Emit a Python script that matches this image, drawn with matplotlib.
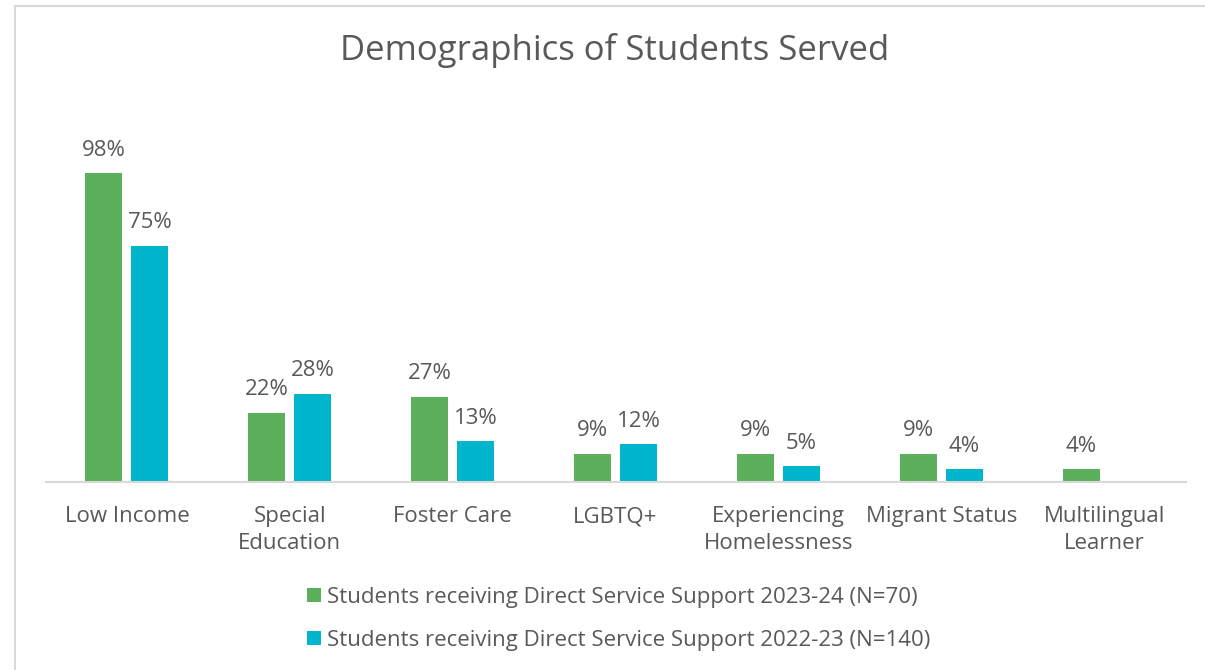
import matplotlib
matplotlib.use("Agg")
import matplotlib.pyplot as plt
import numpy as np
from matplotlib.lines import Line2D
from matplotlib.patches import Patch

categories = ["Low Income", "Special\nEducation", "Foster Care", "LGBTQ+",
              "Experiencing\nHomelessness", "Migrant Status", "Multilingual\nLearner"]
series_2324 = [98, 22, 27, 9, 9, 9, 4]
series_2223 = [75, 28, 13, 12, 5, 4, None]
series_names = ["Students receiving Direct Service Support 2023-24 (N=70)",
                "Students receiving Direct Service Support 2022-23 (N=140)"]
colors = ["#5cb05c", "#00b5cc"]
title = "Demographics of Students Served"

plt.rcParams['font.family'] = ['Open Sans', 'DejaVu Sans']
txt = "#595959"

W, H = 1205, 670
fig = plt.figure(figsize=(W / 100, H / 100), dpi=100)
ax = fig.add_axes([45.5 / W, 1 - 482 / H, 1140 / W, (482 - 100) / H])

x = np.arange(len(categories))
bw = 0.227
off = 0.141
for vals, sign, col in [(series_2324, -1, colors[0]), (series_2223, 1, colors[1])]:
    for xi, v in zip(x, vals):
        if v is None:
            continue
        ax.bar(xi + sign * off, v, width=bw, color=col)
        ax.text(xi + sign * off, v + 7.3, f"{v}%", ha="center", va="center",
                fontsize=16, color=txt)

ax.set_xlim(-0.5, len(categories) - 0.5)
ax.set_ylim(0, 382 / 3.15)
ax.set_yticks([])
ax.set_xticks(x)
ax.set_xticklabels(categories, fontsize=16, color=txt, linespacing=1.33)
ax.tick_params(axis="x", length=0, pad=17.5)
for s in ["top", "right", "left"]:
    ax.spines[s].set_visible(False)
ax.spines["bottom"].set_color("#d9d9d9")
ax.spines["bottom"].set_linewidth(1.5)

fig.text(615 / W, 1 - 51 / H, title, ha="center", va="center", fontsize=25, color=txt)

handles = [Patch(facecolor=c, edgecolor="none") for c in colors]
leg = fig.legend(handles, series_names, loc="center left",
                 bbox_to_anchor=(307 / W, 1 - 619 / H), frameon=False,
                 fontsize=16, handlelength=0.62, handleheight=0.62,
                 handletextpad=0.3, labelspacing=1.0, borderaxespad=0, borderpad=0)
for t in leg.get_texts():
    t.set_color(txt)

fig.add_artist(Line2D([15 / W, 15 / W], [0, 1 - 5.5 / H], color="#d9d9d9", lw=1.5))
fig.add_artist(Line2D([15 / W, 1], [1 - 5.5 / H, 1 - 5.5 / H], color="#d9d9d9", lw=1.5))

fig.savefig("out.png", dpi=100)
